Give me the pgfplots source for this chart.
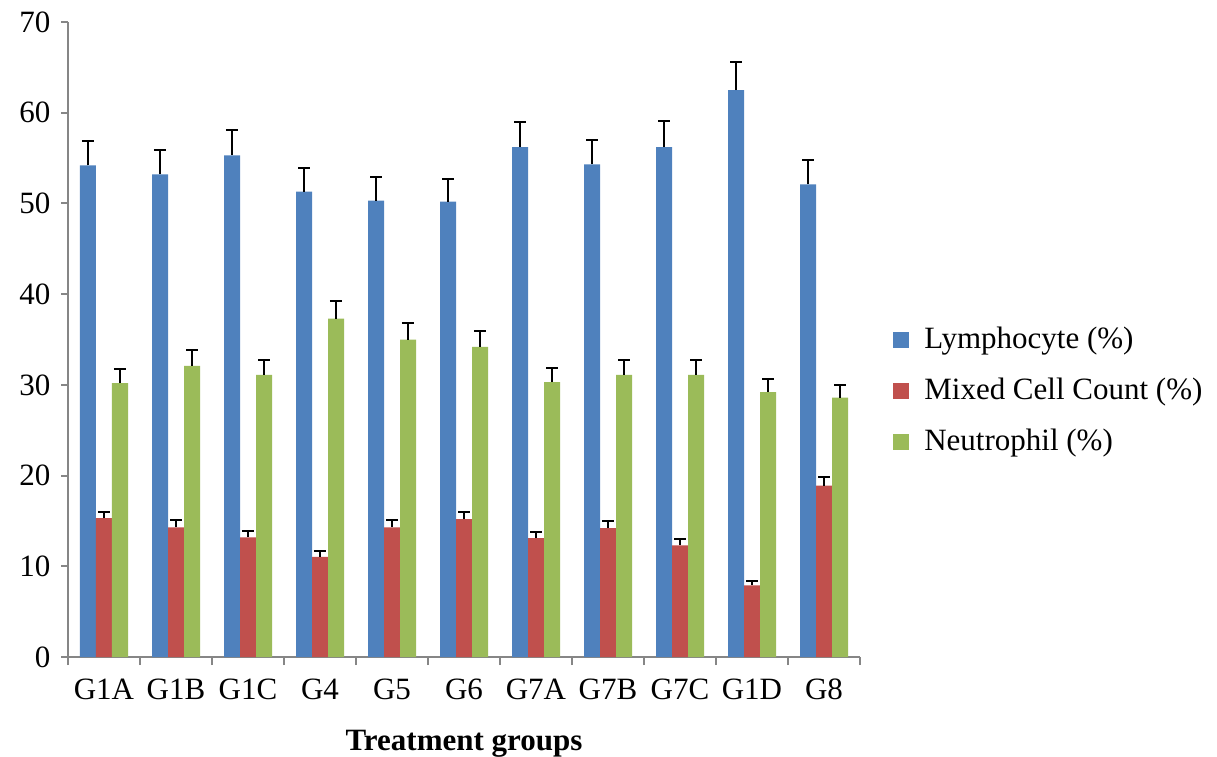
\documentclass[border=0pt]{standalone}
\usepackage{fontspec}
\setmainfont{Liberation Serif}
\usepackage{pgfplots}
\usepackage{pgfplotstable}
\pgfplotsset{compat=1.18}
\definecolor{cblue}{RGB}{79,129,189}
\definecolor{cred}{RGB}{192,80,77}
\definecolor{cgreen}{RGB}{155,187,89}
\definecolor{axgray}{RGB}{134,134,134}
\pgfplotstableread{
x L Le M Me N Ne
0 54.2 2.7 15.3 0.7 30.2 1.6
1 53.2 2.7 14.3 0.8 32.1 1.7
2 55.3 2.8 13.2 0.7 31.1 1.6
3 51.3 2.6 11.05 0.6 37.3 1.9
4 50.3 2.6 14.3 0.8 35.0 1.8
5 50.2 2.5 15.2 0.8 34.2 1.7
6 56.2 2.8 13.1 0.7 30.3 1.6
7 54.3 2.7 14.2 0.8 31.1 1.6
8 56.2 2.9 12.3 0.7 31.1 1.6
9 62.5 3.1 7.9 0.45 29.2 1.5
10 52.1 2.7 18.9 0.9 28.6 1.4
}\data
\begin{document}
\fontsize{15.5}{18}\selectfont
\begin{tikzpicture}
\path[use as bounding box] (-34pt,-49.5pt) rectangle (574.5pt,328.5pt);
\begin{axis}[
  at={(0,0)}, anchor=south west,
  scale only axis, width=396pt, height=317.5pt,
  ybar=0pt, bar width=8pt,
  xmin=-0.5, xmax=10.5, ymin=0, ymax=70,
  ytick={0,10,...,70},
  xtick={0,...,10},
  xticklabels={G1A,G1B,G1C,G4,G5,G6,G7A,G7B,G7C,G1D,G8},
  minor xtick={-0.5,0.5,...,10.5},
  major x tick style={draw=none},
  minor x tick style={axgray, line width=1pt},
  minor tick length=4pt,
  major tick length=3.5pt,
  tick align=outside,
  y tick style={axgray, line width=1pt},
  axis x line*=bottom, axis y line*=left,
  axis line style={axgray, line width=1pt, -},
  /pgf/number format/assume math mode=true,
  tick label style={font=\fontsize{15.5}{18}\selectfont},
  xticklabel style={yshift=-2pt},
  xlabel={\textbf{Treatment groups}},
  xlabel style={font=\fontsize{15.5}{18}\selectfont, yshift=-4.5pt},
  legend style={draw=none, at={(1.034,0.419)}, anchor=west,
    font=\fontsize{15.5}{18}\selectfont, row sep=8.5pt,
    legend cell align=left},
  legend image code/.code={\fill[#1] (0pt,-4pt) rectangle (8pt,4pt); \path (13.5pt,0pt);},
  error bars/error bar style={black, line width=1pt},
  error bars/error mark options={black, rotate=90, mark size=3pt, line width=1pt},
]
\addplot[fill=cblue, draw=none, error bars/.cd, y dir=plus, y explicit]
  table[x=x, y=L, y error=Le]{\data};
\addplot[fill=cred, draw=none, error bars/.cd, y dir=plus, y explicit]
  table[x=x, y=M, y error=Me]{\data};
\addplot[fill=cgreen, draw=none, error bars/.cd, y dir=plus, y explicit]
  table[x=x, y=N, y error=Ne]{\data};
\legend{Lymphocyte (\%), Mixed Cell Count (\%), Neutrophil (\%)}
\end{axis}
\end{tikzpicture}
\end{document}
